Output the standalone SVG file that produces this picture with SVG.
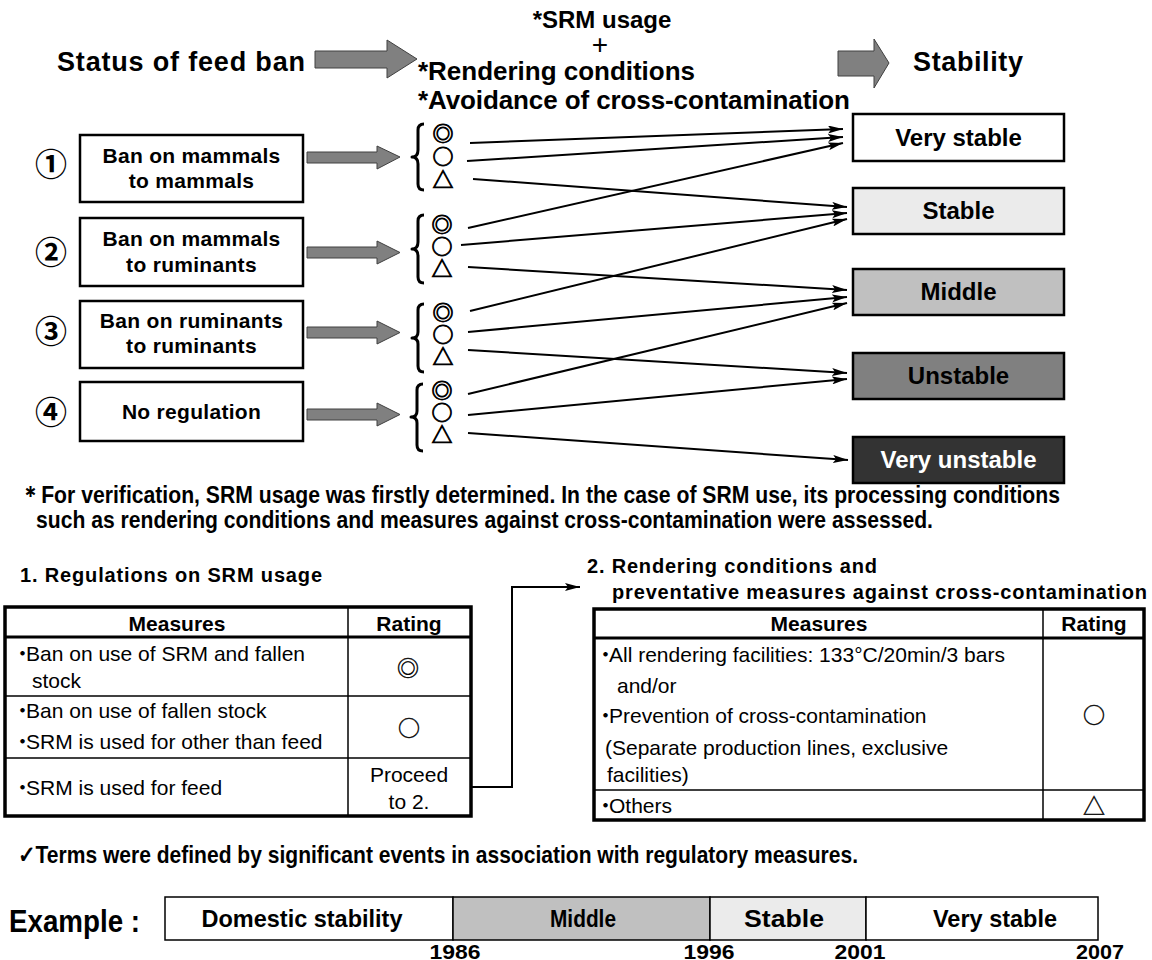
<svg xmlns="http://www.w3.org/2000/svg" width="1152" height="960" viewBox="0 0 1152 960">
<style>
text{font-family:"Liberation Sans",Arial,sans-serif;fill:#000}
.b{font-weight:bold}
.h1{font-size:26px;font-weight:bold}
.bx{font-size:21px;font-weight:bold;text-anchor:middle;letter-spacing:0.3px}
.st{font-size:24px;font-weight:bold;text-anchor:middle}
.sym{font-family:"Noto Sans CJK JP","DejaVu Sans",sans-serif;font-size:21px;font-weight:bold;text-anchor:middle;stroke:#000;stroke-width:0.8px}
.tsym{font-family:"Noto Sans CJK JP","DejaVu Sans",sans-serif;font-size:22px;text-anchor:middle;stroke:#000;stroke-width:0.4px}
.num{font-family:"Noto Sans CJK JP","DejaVu Sans",sans-serif;font-size:32px;font-weight:bold;text-anchor:middle}
.dot{font-family:"Noto Sans CJK JP",sans-serif}
.t{font-size:21px}
.th{font-size:21px;font-weight:bold;text-anchor:middle}
.c{text-anchor:middle}
.box{fill:#fff;stroke:#000;stroke-width:2.5}
.blk{fill:#808080;stroke:#404040;stroke-width:1}
.con{stroke:#000;stroke-width:2;fill:none;marker-end:url(#ah)}
.brace{fill:none;stroke:#000;stroke-width:3;stroke-linejoin:round}
.cond{font-weight:bold;font-size:24px}
.yr{font-weight:bold;font-size:21px;text-anchor:middle}
</style>
<defs>
<marker id="ah" viewBox="0 0 15 8" refX="15" refY="4" markerWidth="15" markerHeight="8" markerUnits="userSpaceOnUse" orient="auto">
<path d="M0,0 L15,4 L0,8 L3,4 z" fill="#000"/>
</marker>
</defs>

<!-- header -->
<g id="header">
<text class="h1" x="57" y="71" textLength="248" style="font-size:27px">Status of feed ban</text>
<polygon class="blk" points="315,51 387,51 387,40 417,59 387,78 387,68 315,68"/>
<text class="b c" x="602" y="28" style="font-size:24px">*SRM usage</text>
<text class="c" x="600" y="54" style="font-size:28px">+</text>
<text class="h1" x="418" y="80" textLength="277">*Rendering conditions</text>
<text class="h1" x="418" y="109" textLength="432">*Avoidance of cross-contamination</text>
<polygon class="blk" points="838,51 874,51 874,39 889,63 874,88 874,76 838,76"/>
<text class="h1" x="913" y="71" textLength="110" style="font-size:27px">Stability</text>
</g>

<!-- left status nodes -->
<g id="n1">
<text class="num" x="51" y="176">①</text>
<rect class="box" x="80" y="135" width="223" height="67"/>
<text class="bx" x="191.5" y="163">Ban on mammals</text>
<text class="bx" x="191.5" y="188">to mammals</text>
</g>
<g id="n2">
<text class="num" x="51" y="264">②</text>
<rect class="box" x="80" y="218" width="223" height="68"/>
<text class="bx" x="191.5" y="246">Ban on mammals</text>
<text class="bx" x="191.5" y="272">to ruminants</text>
</g>
<g id="n3">
<text class="num" x="51" y="343">③</text>
<rect class="box" x="80" y="301" width="223" height="67"/>
<text class="bx" x="191.5" y="328">Ban on ruminants</text>
<text class="bx" x="191.5" y="353">to ruminants</text>
</g>
<g id="n4">
<text class="num" x="51" y="424">④</text>
<rect class="box" x="80" y="382" width="223" height="59"/>
<text class="bx" x="191.5" y="419">No regulation</text>
</g>

<!-- small block arrows -->
<g id="small-arrows">
<polygon class="blk" points="307,152 377,152 377,146 400,157 377,169 377,163 307,163"/>
<polygon class="blk" points="307,247 377,247 377,241 400,252.5 377,264 377,258 307,258"/>
<polygon class="blk" points="307,327 377,327 377,321 400,332.5 377,344 377,338 307,338"/>
<polygon class="blk" points="307,409 377,409 377,403 400,414.5 377,426 377,420 307,420"/>
</g>

<!-- symbol groups -->
<g id="g1">
<path class="brace" d="M424,124 Q418,124 418,130 V150 Q418,157 412,157 Q418,157 418,164 V184 Q418,190 424,190"/>
<text class="sym" x="443" y="141">◎</text>
<text class="sym" x="443" y="164">○</text>
<text class="sym" x="443" y="187">△</text>
</g>
<g id="g2">
<path class="brace" d="M424,215 Q418,215 418,221 V242 Q418,249 412,249 Q418,249 418,256 V277 Q418,283 424,283"/>
<text class="sym" x="442" y="232">◎</text>
<text class="sym" x="442" y="254">○</text>
<text class="sym" x="442" y="276">△</text>
</g>
<g id="g3">
<path class="brace" d="M424,304 Q418,304 418,310 V332 Q418,338 412,338 Q418,338 418,344 V366 Q418,372 424,372"/>
<text class="sym" x="443" y="320">◎</text>
<text class="sym" x="443" y="342">○</text>
<text class="sym" x="443" y="364">△</text>
</g>
<g id="g4">
<path class="brace" d="M423,384 Q417,384 417,390 V411 Q417,417 411,417 Q417,417 417,423 V445 Q417,451 423,451"/>
<text class="sym" x="442" y="398">◎</text>
<text class="sym" x="442" y="420">○</text>
<text class="sym" x="442" y="442">△</text>
</g>

<!-- stability nodes -->
<g id="s1">
<rect x="853" y="114" width="211" height="47" fill="#ffffff" stroke="#000" stroke-width="2.5"/>
<text class="st" x="958.5" y="146">Very stable</text>
</g>
<g id="s2">
<rect x="853" y="188" width="211" height="46" fill="#ebebeb" stroke="#000" stroke-width="2.5"/>
<text class="st" x="958.5" y="219">Stable</text>
</g>
<g id="s3">
<rect x="853" y="269" width="211" height="46" fill="#c0c0c0" stroke="#000" stroke-width="2.5"/>
<text class="st" x="958.5" y="300">Middle</text>
</g>
<g id="s4">
<rect x="853" y="353" width="211" height="46" fill="#808080" stroke="#000" stroke-width="2.5"/>
<text class="st" x="958.5" y="384">Unstable</text>
</g>
<g id="s5">
<rect x="853" y="437" width="211" height="46" fill="#333333" stroke="#000" stroke-width="2.5"/>
<text class="st" x="958.5" y="468" style="fill:#fff">Very unstable</text>
</g>

<!-- connectors -->
<g id="connectors">
<line class="con" x1="470" y1="143" x2="843" y2="129"/>
<line class="con" x1="467" y1="161" x2="843" y2="137"/>
<line class="con" x1="473" y1="179" x2="847" y2="207"/>
<line class="con" x1="468" y1="228" x2="843" y2="143"/>
<line class="con" x1="461" y1="245" x2="847" y2="213"/>
<line class="con" x1="468" y1="267" x2="847" y2="290"/>
<line class="con" x1="470" y1="311" x2="847" y2="219"/>
<line class="con" x1="468" y1="332" x2="847" y2="297"/>
<line class="con" x1="468" y1="350" x2="847" y2="373"/>
<line class="con" x1="468" y1="394" x2="847" y2="303"/>
<line class="con" x1="468" y1="415" x2="847" y2="379"/>
<line class="con" x1="468" y1="433" x2="848" y2="460"/>
<path class="con" d="M462,787 H512 V587 H580"/>
</g>

<!-- footnote -->
<g id="footnote">
<text class="cond" x="20" y="503" textLength="1040" lengthAdjust="spacingAndGlyphs">＊For verification, SRM usage was firstly determined. In the case of SRM use, its processing conditions</text>
<text class="cond" x="36" y="528" textLength="897" lengthAdjust="spacingAndGlyphs">such as rendering conditions and measures against cross-contamination were assessed.</text>
</g>

<!-- table 1 -->
<g id="table1">
<text class="b" x="20" y="582" textLength="302" style="font-size:20px">1. Regulations on SRM usage</text>
<rect x="5" y="607" width="466" height="209" fill="#fff" stroke="#000" stroke-width="3.5"/>
<line x1="5" y1="637" x2="471" y2="637" stroke="#000" stroke-width="3"/>
<line x1="5" y1="696" x2="471" y2="696" stroke="#000" stroke-width="1.5"/>
<line x1="5" y1="758" x2="471" y2="758" stroke="#000" stroke-width="1.5"/>
<line x1="348" y1="607" x2="348" y2="816" stroke="#000" stroke-width="1.5"/>
<text class="th" x="177" y="631">Measures</text>
<text class="th" x="409" y="631">Rating</text>
<text class="t" x="12" y="661"><tspan class="dot">・</tspan><tspan dx="-7">Ban on use of SRM and fallen</tspan></text>
<text class="t" x="32" y="688">stock</text>
<text class="tsym" x="408" y="676">◎</text>
<text class="t" x="12" y="718"><tspan class="dot">・</tspan><tspan dx="-7">Ban on use of fallen stock</tspan></text>
<text class="t" x="12" y="749"><tspan class="dot">・</tspan><tspan dx="-7">SRM is used for other than feed</tspan></text>
<text class="tsym" x="409" y="736">○</text>
<text class="t" x="12" y="795"><tspan class="dot">・</tspan><tspan dx="-7">SRM is used for feed</tspan></text>
<text class="t c" x="409" y="782">Proceed</text>
<text class="t c" x="409" y="809">to 2.</text>
</g>

<!-- table 2 -->
<g id="table2">
<text class="b" x="587" y="573" style="font-size:20px" textLength="290">2. Rendering conditions and</text>
<text class="b" x="612" y="599" style="font-size:20px" textLength="535">preventative measures against cross-contamination</text>
<rect x="594" y="609" width="550" height="211" fill="#fff" stroke="#000" stroke-width="3.5"/>
<line x1="594" y1="638" x2="1144" y2="638" stroke="#000" stroke-width="3"/>
<line x1="594" y1="790" x2="1144" y2="790" stroke="#000" stroke-width="1.5"/>
<line x1="1043" y1="609" x2="1043" y2="820" stroke="#000" stroke-width="1.5"/>
<text class="th" x="819" y="631">Measures</text>
<text class="th" x="1094" y="631">Rating</text>
<text class="t" x="595" y="662"><tspan class="dot">・</tspan><tspan dx="-7">All rendering facilities: 133°C/20min/3 bars</tspan></text>
<text class="t" x="617" y="693">and/or</text>
<text class="t" x="595" y="723"><tspan class="dot">・</tspan><tspan dx="-7">Prevention of cross-contamination</tspan></text>
<text class="t" x="605" y="755">(Separate production lines, exclusive</text>
<text class="t" x="607" y="782">facilities)</text>
<text class="tsym" x="1094" y="723">○</text>
<text class="t" x="595" y="813"><tspan class="dot">・</tspan><tspan dx="-7">Others</tspan></text>
<text class="tsym" x="1094" y="814">△</text>
</g>

<!-- timeline -->
<g id="timeline">
<text class="cond" x="18" y="863" textLength="840" lengthAdjust="spacingAndGlyphs">✓Terms were defined by significant events in association with regulatory measures.</text>
<text class="b" x="9" y="932" style="font-size:31px" textLength="131" lengthAdjust="spacingAndGlyphs">Example :</text>
<rect x="165" y="897" width="288" height="43" fill="#fff" stroke="#000" stroke-width="1.5"/>
<rect x="453" y="897" width="257" height="43" fill="#c0c0c0" stroke="#000" stroke-width="1.5"/>
<rect x="710" y="897" width="156" height="43" fill="#ebebeb" stroke="#000" stroke-width="1.5"/>
<rect x="866" y="897" width="232" height="43" fill="#fff" stroke="#000" stroke-width="1.5"/>
<text class="cond c" x="302" y="927" textLength="201" lengthAdjust="spacingAndGlyphs">Domestic stability</text>
<text class="cond c" x="583" y="927" textLength="66" lengthAdjust="spacingAndGlyphs">Middle</text>
<text class="cond c" x="784" y="927" textLength="80" lengthAdjust="spacingAndGlyphs">Stable</text>
<text class="cond c" x="995" y="927" textLength="124" lengthAdjust="spacingAndGlyphs">Very stable</text>
<text class="yr" x="455" y="959" textLength="51" lengthAdjust="spacingAndGlyphs">1986</text>
<text class="yr" x="709" y="959" textLength="51" lengthAdjust="spacingAndGlyphs">1996</text>
<text class="yr" x="860" y="959" textLength="51" lengthAdjust="spacingAndGlyphs">2001</text>
<text class="yr" x="1100" y="959" textLength="48" lengthAdjust="spacingAndGlyphs">2007</text>
</g>
</svg>
